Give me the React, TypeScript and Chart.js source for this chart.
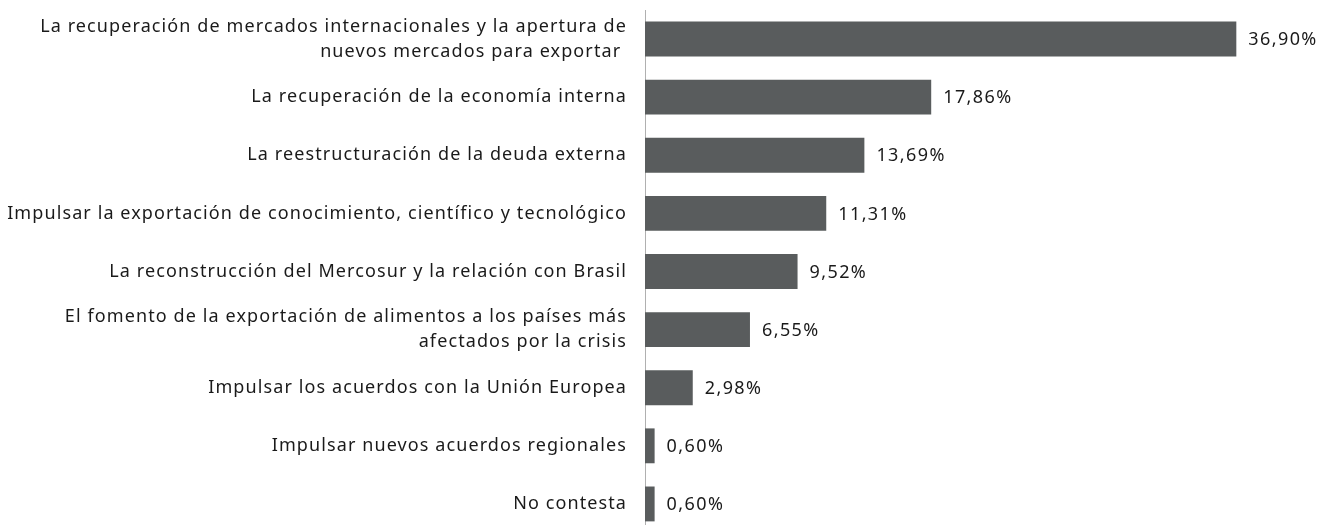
import React, { useEffect, useRef } from "react";
import { Chart, registerables } from "chart.js";

Chart.register(...registerables);

const categories: (string | string[])[] = [
  ["La recuperación de mercados internacionales y la apertura de", "nuevos mercados para exportar "],
  "La recuperación de la economía interna",
  "La reestructuración de la deuda externa",
  "Impulsar la exportación de conocimiento, científico y tecnológico",
  "La reconstrucción del Mercosur y la relación con Brasil",
  ["El fomento de la exportación de alimentos a los países más", "afectados por la crisis"],
  "Impulsar los acuerdos con la Unión Europea",
  "Impulsar nuevos acuerdos regionales",
  "No contesta",
];
const values: number[] = [36.9, 17.86, 13.69, 11.31, 9.52, 6.55, 2.98, 0.6, 0.6];

const FONT = "'Noto Sans', sans-serif";

const spacing = {
  id: "spacing",
  beforeDraw(chart: any) {
    chart.ctx.letterSpacing = "1.1px";
  },
};

const valueLabels = {
  id: "valueLabels",
  afterDatasetsDraw(chart: any) {
    const ctx = chart.ctx;
    const meta = chart.getDatasetMeta(0);
    ctx.save();
    ctx.letterSpacing = "1.4px";
    ctx.font = `18px ${FONT}`;
    ctx.fillStyle = "#1a1a1a";
    ctx.textBaseline = "middle";
    ctx.textAlign = "left";
    meta.data.forEach((bar: any, i: number) => {
      const txt = values[i].toFixed(2).replace(".", ",") + "%";
      ctx.fillText(txt, bar.x + 12, bar.y + 1);
    });
    ctx.restore();
  },
};

export default function App() {
  const ref = useRef<HTMLCanvasElement>(null);
  useEffect(() => {
    if (!ref.current) return;
    const chart = new Chart(ref.current, {
      type: "bar",
      data: {
        labels: categories,
        datasets: [
          {
            data: values,
            backgroundColor: "#595c5d",
            barPercentage: 0.6,
            categoryPercentage: 1,
          },
        ],
      },
      options: {
        indexAxis: "y",
        animation: false,
        responsive: false,
        maintainAspectRatio: false,
        layout: { padding: { top: 10, bottom: 7, right: 50, left: 0 } },
        plugins: { legend: { display: false }, tooltip: { enabled: false } },
        scales: {
          x: { display: false, min: 0, max: 40 },
          y: {
            afterFit: (s: any) => {
              s.width = 645;
              s.paddingTop = 0;
              s.paddingBottom = 0;
            },
            grid: { display: false, drawTicks: false },
            border: { display: true, color: "#b0b0b0", width: 1 },
            ticks: {
              color: "#1a1a1a",
              padding: 18,
              font: { family: FONT, size: 18, lineHeight: 1.39 },
            },
          },
        },
      },
      plugins: [spacing, valueLabels],
    });
    return () => chart.destroy();
  }, []);
  return (
    <div style={{ position: "absolute", left: 0, top: 0, width: 1336, height: 525, overflow: "hidden", background: "#fff" }}>
      <canvas ref={ref} width={1336} height={540} style={{ width: 1336, height: 540 }} />
    </div>
  );
}
